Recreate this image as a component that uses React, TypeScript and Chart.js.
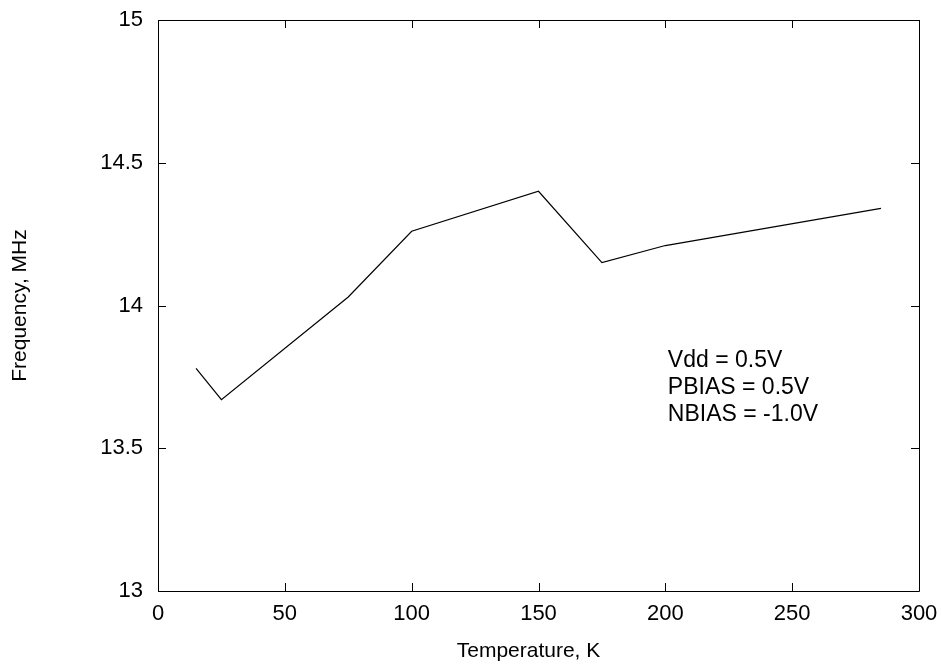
import React, { useEffect, useRef } from "react";
import { Chart, registerables } from "chart.js";

Chart.register(...registerables);

const temperatures = [15, 25, 75, 100, 150, 175, 200, 285];
const frequencies = [13.78, 13.67, 14.03, 14.26, 14.4, 14.15, 14.21, 14.34];
const xTicks = [0, 50, 100, 150, 200, 250, 300];
const yTicks = [13, 13.5, 14, 14.5, 15];
const annotationLines = ["Vdd = 0.5V", "PBIAS = 0.5V", "NBIAS = -1.0V"];
const xTitle = "Temperature, K";
const yTitle = "Frequency, MHz";

const FONT = "'Liberation Sans', Arial, Helvetica, sans-serif";
const TICK_FS = 22;
const TITLE_FS = 21;
const NOTE_FS = 23;

const framePlugin = {
  id: "frame",
  afterDraw(chart: any) {
    const { ctx, chartArea: a, scales } = chart;
    const xs = scales.x;
    const ys = scales.y;
    ctx.save();
    ctx.strokeStyle = "#000";
    ctx.lineWidth = 1;
    ctx.beginPath();
    ctx.rect(Math.round(a.left) + 0.5, Math.round(a.top) + 0.5, Math.round(a.right - a.left), Math.round(a.bottom - a.top));
    ctx.stroke();
    const tl = 8;
    ctx.beginPath();
    xTicks.forEach((v) => {
      const px = Math.round(xs.getPixelForValue(v)) + 0.5;
      ctx.moveTo(px, a.bottom);
      ctx.lineTo(px, a.bottom - tl);
      ctx.moveTo(px, a.top);
      ctx.lineTo(px, a.top + tl);
    });
    yTicks.forEach((v) => {
      const py = Math.round(ys.getPixelForValue(v)) + 0.5;
      ctx.moveTo(a.left, py);
      ctx.lineTo(a.left + tl, py);
      ctx.moveTo(a.right, py);
      ctx.lineTo(a.right - tl, py);
    });
    ctx.stroke();
    ctx.fillStyle = "#000";
    // x title (slightly left of the plot centre, as in the reference)
    ctx.font = `${TITLE_FS}px ${FONT}`;
    ctx.textAlign = "center";
    ctx.textBaseline = "middle";
    ctx.fillText(xTitle, (a.left + a.right) / 2 - 10, 651);
    // annotation
    ctx.font = `${NOTE_FS}px ${FONT}`;
    ctx.textAlign = "left";
    ctx.textBaseline = "middle";
    const tx = xs.getPixelForValue(201);
    const ty = ys.getPixelForValue(13.806);
    annotationLines.forEach((t, i) => {
      ctx.fillText(t, tx, ty + i * 27);
    });
    ctx.restore();
  },
};

export default function App() {
  const ref = useRef<HTMLCanvasElement>(null);
  useEffect(() => {
    if (!ref.current) return;
    const chart = new Chart(ref.current, {
      type: "line",
      data: {
        datasets: [
          {
            data: temperatures.map((t, i) => ({ x: t, y: frequencies[i] })),
            borderColor: "#000",
            borderWidth: 1.2,
            pointRadius: 0,
            fill: false,
            tension: 0,
          },
        ],
      },
      options: {
        animation: false,
        responsive: false,
        maintainAspectRatio: false,
        layout: { padding: { left: 0, top: 20, right: 22, bottom: 0 } },
        plugins: { legend: { display: false }, tooltip: { enabled: false } },
        scales: {
          x: {
            type: "linear",
            min: 0,
            max: 300,
            afterFit: (s: any) => {
              s.height = 74;
              s.paddingLeft = 0;
              s.paddingRight = 0;
            },
            afterBuildTicks: (s: any) => {
              s.ticks = xTicks.map((v) => ({ value: v }));
            },
            grid: { display: false, drawTicks: false },
            border: { display: false },
            ticks: {
              color: "#000",
              font: { family: FONT, size: TICK_FS },
              padding: 10,
              maxRotation: 0,
            },
            title: { display: false },
          },
          y: {
            type: "linear",
            min: 13,
            max: 15,
            afterFit: (s: any) => {
              s.width = 158;
              s.paddingTop = 0;
              s.paddingBottom = 0;
            },
            afterBuildTicks: (s: any) => {
              s.ticks = yTicks.map((v) => ({ value: v }));
            },
            grid: { display: false, drawTicks: false },
            border: { display: false },
            ticks: {
              color: "#000",
              font: { family: FONT, size: TICK_FS },
              padding: 15,
              callback: (v: any) => String(v),
            },
            title: {
              display: true,
              text: yTitle,
              color: "#000",
              font: { family: FONT, size: TITLE_FS },
              padding: { top: 8, bottom: 0 },
            },
          },
        },
      },
      plugins: [framePlugin],
    });
    return () => chart.destroy();
  }, []);
  return (
    <div style={{ position: "absolute", left: 0, top: 0, width: 941, height: 665, background: "#fff" }}>
      <canvas ref={ref} width={941} height={665} style={{ width: 941, height: 665 }} />
    </div>
  );
}
